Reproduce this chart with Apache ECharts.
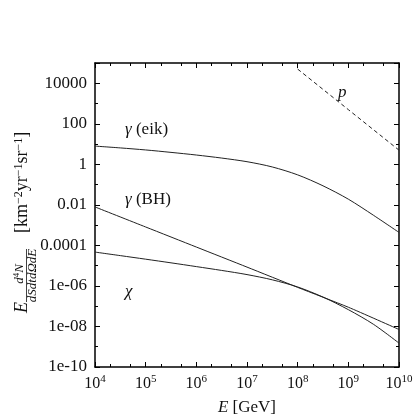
<!DOCTYPE html>
<html><head><meta charset="utf-8">
<script src="https://cdn.jsdelivr.net/npm/echarts@6/dist/echarts.min.js"></script>
<style>html,body{margin:0;padding:0;background:#fff}#c{width:415px;height:417px}</style>
</head><body><div id="c"></div>
<script>
// ---- data ----
const energyHalfDecades = [1e4, 31623, 1e5, 316228, 1e6, 3162278, 1e7, 31622777, 1e8, 316227766, 1e9, 3162277660, 1e10];
const gammaEik = [7.94, 6.46, 5.13, 3.89, 2.88, 2.04, 1.35, 0.741, 0.302, 0.0871, 0.0191, 0.00302, 4.37e-4];
const chiFlux = [4.68e-5, 3.13e-5, 2.09e-5, 1.38e-5, 9.0e-6, 5.82e-6, 3.63e-6, 2.0e-6, 8.9e-7, 2.82e-7, 6.76e-8, 1.26e-8, 1.51e-9];
const energyDecades = [1e4, 1e5, 1e6, 1e7, 1e8, 1e9, 1e10];
const gammaBH = [7.9e-3, 8.1e-4, 8.3e-5, 8.5e-6, 8.5e-7, 8.9e-8, 7.1e-9];
const protonEnergy = [1e8, 1e9, 1e10];
const protonFlux = [5e4, 500, 5];
const xTickExponents = [4, 5, 6, 7, 8, 9, 10];
const yTickExponents = [-10, -8, -6, -4, -2, 0, 2, 4];
const yTickLabels = ['1e-10', '1e-08', '1e-06', '0.0001', '0.01', '1', '100', '10000'];
const minorTwo = ['2e4', '2e5', '2e6', '2e7', '2e8', '2e9'];
const minorFive = ['5e4', '5e5', '5e6', '5e7', '5e8', '5e9'];
const curveLabels = ['\u03b3 (eik)', '\u03b3 (BH)', '\u03c7', 'p'];

// ---- layout ----
const FONT = '"Liberation Serif", "Times New Roman", serif';
const L = 95, R = 16, T = 63, B = 50, W = 415 - L - R, H = 417 - T - B;
const dec = W / 6;
const frame = { lineStyle: { color: '#000', width: 1.5 } };

function pairs(xs, ys) { return xs.map((x, i) => [x, ys[i]]); }

const chart = echarts.init(document.getElementById('c'), null, { renderer: 'canvas' });

const logX = (pos, labels) => ({
  gridIndex: 0, type: 'log', logBase: 10, min: 1e4, max: 1e10, interval: 1, position: pos,
  axisLine: { show: true, onZero: false, ...frame },
  axisTick: { show: true, inside: true, length: 5, lineStyle: { color: '#000', width: 1 } },
  splitLine: { show: false },
  axisLabel: labels ? {
    show: true, margin: 7, color: '#111', fontFamily: FONT, fontSize: 16, lineHeight: 20,
    formatter: v => { const e = Math.round(Math.log10(v)); return xTickExponents.includes(e) ? '10{s|' + e + '}' : ''; },
    rich: { s: { fontFamily: FONT, fontSize: 11, color: '#111', verticalAlign: 'top', lineHeight: 12 } }
  } : { show: false }
});
const logY = (pos, interval, len, labels, line) => ({
  gridIndex: 0, type: 'log', logBase: 10, min: 1e-10, max: 1e5, interval: interval, position: pos,
  axisLine: { show: line, onZero: false, ...frame },
  axisTick: { show: true, inside: true, length: len, lineStyle: { color: '#000', width: 1 } },
  splitLine: { show: false },
  axisLabel: labels ? {
    show: true, margin: 8, color: '#111', fontFamily: FONT, fontSize: 17,
    formatter: v => { const e = Math.round(Math.log10(v)); const i = yTickExponents.indexOf(e); return i >= 0 ? yTickLabels[i] : ''; }
  } : { show: false }
});
const catX = (grid, pos, data) => ({
  gridIndex: grid, type: 'category', data: data, boundaryGap: false, position: pos,
  axisLine: { show: false },
  axisTick: { show: true, inside: true, length: 3, interval: 0, lineStyle: { color: '#000', width: 1 } },
  axisLabel: { show: false }, splitLine: { show: false }
});

const option = {
  animation: false,
  backgroundColor: '#fff',
  grid: [
    { left: L, right: R, top: T, bottom: B, outerBoundsMode: 'none', containLabel: false },
    { left: L + dec * Math.log10(2), width: dec * 5, top: T, height: H, outerBoundsMode: 'none', containLabel: false },
    { left: L + dec * Math.log10(5), width: dec * 5, top: T, height: H, outerBoundsMode: 'none', containLabel: false }
  ],
  xAxis: [
    Object.assign(logX('bottom', true), {
      name: '{i|E} [GeV]', nameLocation: 'middle', nameGap: 31,
      nameTextStyle: { color: '#111', fontFamily: FONT, fontSize: 17, rich: { i: { fontFamily: FONT, fontSize: 17, fontStyle: 'italic', color: '#111' } } }
    }),
    logX('top', false),
    catX(1, 'bottom', minorTwo), catX(1, 'top', minorTwo),
    catX(2, 'bottom', minorFive), catX(2, 'top', minorFive)
  ],
  yAxis: [
    logY('left', 1, 3, false, true),
    logY('left', 2, 5, true, false),
    logY('right', 1, 3, false, true),
    logY('right', 2, 5, false, false),
    { gridIndex: 1, type: 'value', show: false },
    { gridIndex: 2, type: 'value', show: false }
  ],
  series: [
    { name: 'gamma eik', type: 'line', xAxisIndex: 0, yAxisIndex: 0, data: pairs(energyHalfDecades, gammaEik), smooth: 0.3, showSymbol: false, lineStyle: { color: '#222', width: 1 } },
    { name: 'gamma BH', type: 'line', xAxisIndex: 0, yAxisIndex: 0, data: pairs(energyDecades, gammaBH), smooth: 0.2, showSymbol: false, lineStyle: { color: '#222', width: 1 } },
    { name: 'chi', type: 'line', xAxisIndex: 0, yAxisIndex: 0, data: pairs(energyHalfDecades, chiFlux), smooth: 0.3, showSymbol: false, lineStyle: { color: '#222', width: 1 } },
    { name: 'p', type: 'line', xAxisIndex: 0, yAxisIndex: 0, data: pairs(protonEnergy, protonFlux), showSymbol: false, lineStyle: { color: '#222', width: 1, type: [4, 3] } }
  ],
  graphic: [
    { type: 'text', left: 125, top: 121, style: { text: '{g|\u03b3} (eik)', fill: '#111', font: '17px ' + FONT, rich: { g: { fontStyle: 'italic', fontFamily: FONT, fontSize: 17 } } } },
    { type: 'text', left: 125, top: 191, style: { text: '{g|\u03b3} (BH)', fill: '#111', font: '17px ' + FONT, rich: { g: { fontStyle: 'italic', fontFamily: FONT, fontSize: 17 } } } },
    { type: 'text', left: 125, top: 283, style: { text: curveLabels[2], fill: '#111', font: 'italic 17px ' + FONT } },
    { type: 'text', left: 338, top: 84, style: { text: curveLabels[3], fill: '#111', font: 'italic 17px ' + FONT } },
    {
      type: 'group', x: 25, y: 313, rotation: Math.PI / 2,
      children: [
        { type: 'text', x: 0, y: -3, style: { text: 'E', fill: '#111', font: 'italic 18px ' + FONT, textAlign: 'left', textVerticalAlign: 'middle' } },
        { type: 'text', x: 39, y: -5, style: { text: '{i|d}{s|4}{i|N}', fill: '#111', font: 'italic 13px ' + FONT, textAlign: 'center', textVerticalAlign: 'middle',
          rich: { i: { fontStyle: 'italic', fontFamily: FONT, fontSize: 13, lineHeight: 15 }, s: { fontFamily: FONT, fontSize: 9, verticalAlign: 'top', lineHeight: 10 } } } },
        { type: 'line', shape: { x1: 11, y1: 1.5, x2: 64, y2: 1.5 }, style: { stroke: '#111', lineWidth: 0.8 } },
        { type: 'text', x: 37.5, y: 8, style: { text: 'dSdtd\u03a9dE', fill: '#111', font: 'italic 13px ' + FONT, textAlign: 'center', textVerticalAlign: 'middle' } },
        { type: 'text', x: 80, y: -3, style: { text: '[km{s|\u22122}yr{s|\u22121}sr{s|\u22121}]', fill: '#111', font: '18px ' + FONT, textAlign: 'left', textVerticalAlign: 'middle',
          rich: { s: { fontFamily: FONT, fontSize: 12, verticalAlign: 'top', lineHeight: 12 } } } }
      ]
    }
  ]
};
chart.setOption(option);
</script>
</body></html>
